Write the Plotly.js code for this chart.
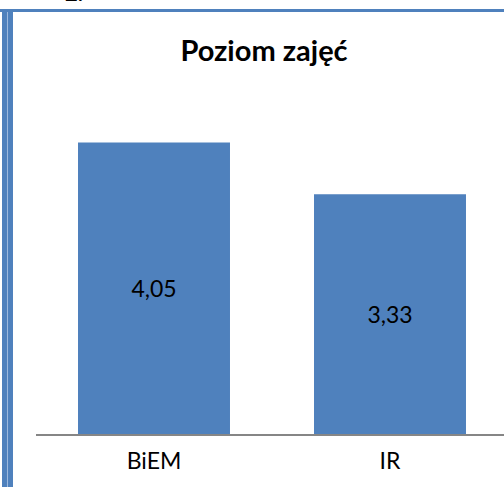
<!DOCTYPE html>
<html>
<head>
<meta charset="utf-8">
<script src="https://cdn.plot.ly/plotly-3.0.1.min.js"></script>
<style>
html,body{margin:0;padding:0;overflow:hidden;background:#fff;}
#chart{width:510px;height:487px;}
</style>
</head>
<body>
<div id="chart"></div>
<script>
var categories = ["BiEM", "IR"];
var values = [4.05, 3.33];
var valueLabels = ["4,05", "3,33"];
var chartTitle = "Poziom zajęć";

var W = 510, H = 487;
var M = {l: 36, r: 2, t: 110, b: 53};
var PW = W - M.l - M.r, PH = H - M.t - M.b;
function px(x){ return (x - M.l) / PW; }
function py(y){ return (H - M.b - y) / PH; }

var blue = "#4F81BD";
var FONT = "Lato, 'Open Sans', sans-serif";

var data = [{
  type: "bar",
  x: categories,
  y: values,
  text: valueLabels,
  textposition: "inside",
  insidetextanchor: "middle",
  textfont: {family: FONT, size: 23, color: "#000"},
  marker: {color: blue, line: {width: 0}},
  hoverinfo: "skip",
  cliponaxis: false
}];

var layout = {
  width: W, height: H,
  margin: M,
  paper_bgcolor: "#fff",
  plot_bgcolor: "#fff",
  showlegend: false,
  bargap: 0.356,
  uniformtext: {mode: false},
  title: {
    text: "<b>" + chartTitle + "</b>",
    font: {family: FONT, size: 29, color: "#000"},
    x: px(264), xref: "paper", xanchor: "center",
    y: 1 - 51 / H, yref: "container", yanchor: "middle"
  },
  xaxis: {
    type: "category",
    showline: true, linecolor: "#868686", linewidth: 2,
    ticks: "", showgrid: false, zeroline: false,
    tickfont: {family: FONT, size: 23, color: "#000"},
    ticklabelstandoff: 5
  },
  yaxis: {
    range: [0, 4.5],
    visible: false, showgrid: false, zeroline: false
  },
  shapes: [
    {type: "rect", xref: "paper", yref: "paper", x0: px(2), x1: px(13), y0: py(9), y1: py(490),
     fillcolor: blue, line: {width: 0}, layer: "above"},
    {type: "rect", xref: "paper", yref: "paper", x0: px(7), x1: px(8), y0: py(12), y1: py(490),
     fillcolor: "#9DB9DE", line: {width: 0}, layer: "above"},
    {type: "rect", xref: "paper", yref: "paper", x0: px(0), x1: px(510), y0: py(9), y1: py(12),
     fillcolor: blue, line: {width: 0}, layer: "above"}
  ],
  annotations: [
    {text: "<b>2.</b>", xref: "paper", yref: "paper", x: px(74), y: py(8),
     xanchor: "center", yanchor: "bottom", showarrow: false,
     font: {family: FONT, size: 22, color: "#000"}}
  ]
};

Plotly.newPlot("chart", data, layout, {staticPlot: true, displayModeBar: false});
</script>
</body>
</html>
